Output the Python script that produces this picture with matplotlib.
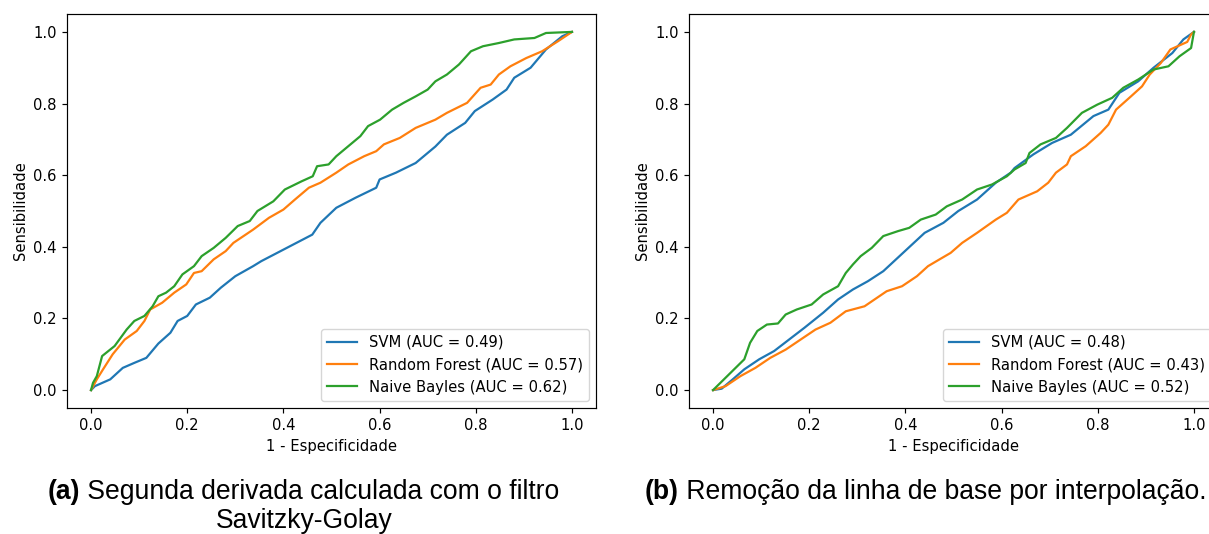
import matplotlib
matplotlib.use("Agg")
import matplotlib.pyplot as plt
import numpy as np

# scale factor: the original subplots were rendered at ~106.6 dpi
s = 1.066
plt.rcParams.update({
    "font.size": 10 * s,
    "lines.linewidth": 1.5 * s,
    "axes.linewidth": 0.8 * s,
    "xtick.major.size": 3.5 * s,
    "ytick.major.size": 3.5 * s,
    "xtick.major.width": 0.8 * s,
    "ytick.major.width": 0.8 * s,
})

# ---- (a) Segunda derivada / Savitzky-Golay ----
svm_a_fpr = [0, 0.008, 0.04, 0.066, 0.09, 0.115, 0.14, 0.165, 0.18, 0.2, 0.218, 0.247, 0.27, 0.3,
             0.337, 0.354, 0.46, 0.477, 0.51, 0.55, 0.593, 0.6, 0.634, 0.675, 0.716, 0.74, 0.778,
             0.798, 0.835, 0.864, 0.88, 0.914, 0.946, 0.98, 1]
svm_a_tpr = [0, 0.011, 0.03, 0.062, 0.076, 0.09, 0.13, 0.16, 0.193, 0.207, 0.239, 0.258, 0.286, 0.318,
             0.346, 0.36, 0.434, 0.467, 0.509, 0.537, 0.565, 0.588, 0.607, 0.634, 0.68, 0.713, 0.746,
             0.779, 0.811, 0.839, 0.872, 0.9, 0.951, 0.988, 1]

rf_a_fpr = [0, 0.012, 0.025, 0.045, 0.07, 0.095, 0.111, 0.123, 0.148, 0.173, 0.198, 0.214, 0.23, 0.255,
            0.28, 0.296, 0.337, 0.37, 0.4, 0.424, 0.453, 0.477, 0.51, 0.535, 0.568, 0.593, 0.609, 0.642,
            0.675, 0.716, 0.74, 0.782, 0.81, 0.831, 0.848, 0.872, 0.905, 0.938, 0.971, 1]
rf_a_tpr = [0, 0.03, 0.058, 0.1, 0.141, 0.165, 0.193, 0.225, 0.244, 0.272, 0.295, 0.327, 0.332, 0.365,
            0.388, 0.411, 0.448, 0.481, 0.504, 0.532, 0.565, 0.579, 0.607, 0.63, 0.653, 0.667, 0.686, 0.704,
            0.732, 0.755, 0.774, 0.802, 0.844, 0.853, 0.881, 0.904, 0.927, 0.946, 0.974, 1]

nb_a_fpr = [0, 0.004, 0.012, 0.023, 0.049, 0.074, 0.09, 0.111, 0.128, 0.14, 0.156, 0.173, 0.19, 0.214,
            0.23, 0.255, 0.28, 0.305, 0.33, 0.346, 0.379, 0.403, 0.438, 0.461, 0.47, 0.494, 0.51, 0.535,
            0.56, 0.576, 0.601, 0.626, 0.65, 0.675, 0.7, 0.716, 0.74, 0.765, 0.79, 0.815, 0.848, 0.88,
            0.922, 0.946, 1]
nb_a_tpr = [0, 0.02, 0.039, 0.095, 0.123, 0.169, 0.193, 0.207, 0.234, 0.262, 0.272, 0.29, 0.323, 0.346,
            0.374, 0.397, 0.425, 0.458, 0.472, 0.5, 0.527, 0.56, 0.583, 0.597, 0.625, 0.63, 0.653, 0.681,
            0.709, 0.737, 0.755, 0.783, 0.802, 0.82, 0.839, 0.862, 0.881, 0.909, 0.946, 0.96, 0.969, 0.979,
            0.983, 0.997, 1]

# ---- (b) Remocao da linha de base ----
svm_b_fpr = [0, 0.018, 0.041, 0.065, 0.096, 0.127, 0.158, 0.19, 0.229, 0.26, 0.291, 0.322, 0.354, 0.44,
             0.479, 0.51, 0.549, 0.588, 0.619, 0.627, 0.666, 0.705, 0.744, 0.791, 0.822, 0.845, 0.884,
             0.916, 0.955, 0.978, 1]
svm_b_tpr = [0, 0.004, 0.03, 0.058, 0.086, 0.109, 0.141, 0.174, 0.216, 0.253, 0.281, 0.304, 0.332, 0.439,
             0.467, 0.5, 0.532, 0.579, 0.607, 0.62, 0.658, 0.69, 0.713, 0.765, 0.783, 0.83, 0.862, 0.9,
             0.941, 0.979, 1]

rf_b_fpr = [0, 0.026, 0.057, 0.088, 0.119, 0.151, 0.182, 0.213, 0.244, 0.276, 0.315, 0.361, 0.393, 0.424,
            0.447, 0.471, 0.494, 0.518, 0.549, 0.588, 0.611, 0.635, 0.674, 0.697, 0.713, 0.736, 0.744,
            0.775, 0.806, 0.822, 0.838, 0.869, 0.892, 0.908, 0.931, 0.951, 0.986, 0.994, 1]
rf_b_tpr = [0, 0.011, 0.039, 0.062, 0.09, 0.113, 0.141, 0.169, 0.188, 0.22, 0.234, 0.276, 0.29, 0.318,
            0.346, 0.365, 0.383, 0.411, 0.439, 0.476, 0.495, 0.532, 0.555, 0.579, 0.607, 0.63, 0.653,
            0.681, 0.718, 0.741, 0.783, 0.82, 0.848, 0.881, 0.913, 0.951, 0.972, 0.993, 1]

nb_b_fpr = [0, 0.065, 0.077, 0.092, 0.112, 0.135, 0.151, 0.174, 0.205, 0.229, 0.26, 0.276, 0.291, 0.307,
            0.33, 0.354, 0.385, 0.408, 0.432, 0.463, 0.486, 0.518, 0.549, 0.58, 0.611, 0.627, 0.65, 0.658,
            0.681, 0.713, 0.736, 0.767, 0.799, 0.83, 0.853, 0.884, 0.916, 0.947, 0.97, 0.994, 1]
nb_b_tpr = [0, 0.086, 0.132, 0.165, 0.183, 0.186, 0.211, 0.225, 0.239, 0.267, 0.29, 0.327, 0.351, 0.374,
            0.397, 0.43, 0.444, 0.453, 0.476, 0.49, 0.513, 0.532, 0.56, 0.574, 0.597, 0.616, 0.634, 0.662,
            0.686, 0.704, 0.732, 0.774, 0.797, 0.816, 0.844, 0.867, 0.895, 0.904, 0.932, 0.955, 1]

auc_a = [0.49, 0.57, 0.62]
auc_b = [0.48, 0.43, 0.52]
modelos = ["SVM", "Random Forest", "Naive Bayles"]


def painel(ax, curvas, aucs):
    for (fpr, tpr), nome, auc in zip(curvas, modelos, aucs):
        ax.plot(fpr, tpr, label="{} (AUC = {:.2f})".format(nome, auc))
    ax.set_xlabel("1 - Especificidade")
    ax.set_ylabel("Sensibilidade")
    ax.legend(loc="lower right")


fig = plt.figure(figsize=(12.09, 5.34), dpi=100)
ax1 = fig.add_axes([67 / 1209, 1 - 408 / 534, 529 / 1209, 394 / 534])
ax2 = fig.add_axes([689 / 1209, 1 - 408 / 534, 529 / 1209, 394 / 534])

painel(ax1, [(svm_a_fpr, svm_a_tpr), (rf_a_fpr, rf_a_tpr), (nb_a_fpr, nb_a_tpr)], auc_a)
painel(ax2, [(svm_b_fpr, svm_b_tpr), (rf_b_fpr, rf_b_tpr), (nb_b_fpr, nb_b_tpr)], auc_b)

# legendas das figuras
cap = dict(family="Liberation Sans", fontsize=19.1)
ta = fig.text(48 / 1209, 1 - 499 / 534, "(a)", fontweight="bold", va="baseline", **cap)
ax1.annotate(" Segunda derivada calculada com o filtro", xy=(1, 0), xycoords=ta,
             va="bottom", annotation_clip=False, **cap)
fig.text(304 / 1209, 1 - 528 / 534, "Savitzky-Golay", ha="center", va="baseline", **cap)
tb = fig.text(645 / 1209, 1 - 499 / 534, "(b)", fontweight="bold", va="baseline", **cap)
ax2.annotate(" Remoção da linha de base por interpolação.", xy=(1, 0), xycoords=tb,
             va="bottom", annotation_clip=False, **cap)

fig.savefig("out.png", dpi=100)
